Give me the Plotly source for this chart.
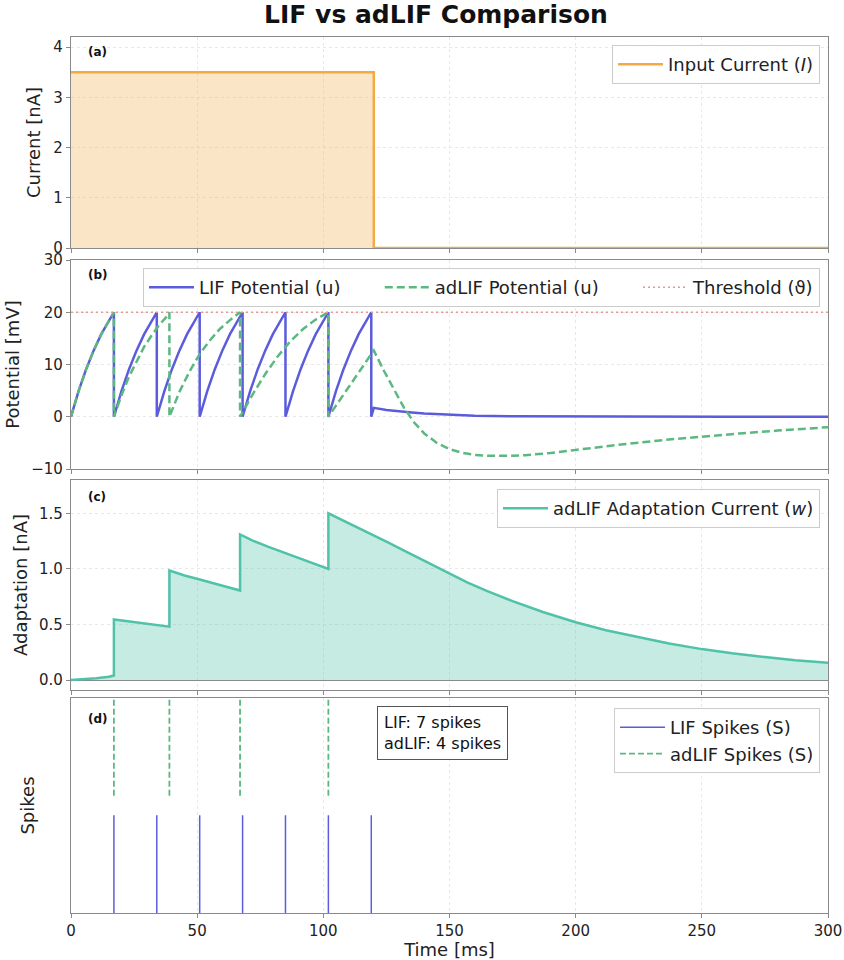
import plotly.graph_objects as go

# ---------------- data ----------------
cur_t = [0, 120, 120, 300]
cur_v = [3.5, 3.5, 0.0, 0.0]

lif_t = [0, 3, 6, 9, 12, 15, 17,
         17, 20, 23, 26, 29, 32, 34,
         34, 37, 40, 43, 46, 49, 51,
         51, 54, 57, 60, 63, 66, 68,
         68, 71, 74, 77, 80, 83, 85,
         85, 88, 91, 94, 97, 100, 102,
         102, 105, 108, 111, 114, 117, 119,
         119, 120, 125, 130, 135, 140, 150, 160, 175, 200, 230, 260, 300]
lif_u = [0, 4.9, 9.1, 12.7, 15.8, 18.5, 20.0,
         0, 4.9, 9.1, 12.7, 15.8, 18.5, 20.0,
         0, 4.9, 9.1, 12.7, 15.8, 18.5, 20.0,
         0, 4.9, 9.1, 12.7, 15.8, 18.5, 20.0,
         0, 4.9, 9.1, 12.7, 15.8, 18.5, 20.0,
         0, 4.9, 9.1, 12.7, 15.8, 18.5, 20.0,
         0, 4.9, 9.1, 12.7, 15.8, 18.5, 20.0,
         0, 1.7, 1.3, 1.0, 0.8, 0.6, 0.4, 0.2, 0.1, 0.03, 0.01, 0.0, 0.0]

adlif_t = [0, 3, 6, 9, 12, 15, 17,
           17, 20, 23, 26, 29, 32, 35, 38, 39,
           39, 43, 47, 51, 55, 59, 63, 67,
           67, 72, 77, 82, 87, 92, 97, 102,
           102, 108, 114, 120,
           124, 128, 132, 136, 140, 145, 150, 155, 160, 165, 170, 175, 180,
           190, 200, 210, 220, 235, 250, 265, 280, 300]
adlif_u = [0, 4.9, 9.1, 12.7, 15.8, 18.5, 20.0,
           0, 4.1, 7.7, 10.7, 13.4, 15.6, 17.6, 19.2, 20.0,
           0, 4.8, 8.7, 12.0, 14.6, 16.8, 18.5, 20.0,
           0, 4.3, 8.2, 11.6, 14.5, 16.8, 18.6, 20.0,
           0, 4.2, 8.5, 12.7,
           8.8, 5.1, 1.7, -1.1, -3.2, -5.0, -6.2, -6.9, -7.3, -7.45, -7.5, -7.45, -7.35,
           -6.95, -6.35, -5.75, -5.2, -4.45, -3.8, -3.2, -2.65, -2.0]

threshold = 20.0
thr_t = [0, 300]

w_t = [0, 5, 10, 15, 17,
       17, 22, 27, 33, 39,
       39, 45, 51, 57, 62, 67,
       67, 72, 78, 84, 90, 96, 102,
       102, 108, 114, 120, 126, 132, 138, 144, 150, 157, 165, 175,
       187, 200, 212, 225, 237, 250, 262, 275, 287, 300]
w_v = [0, 0.005, 0.015, 0.03, 0.04,
       0.545, 0.53, 0.515, 0.495, 0.48,
       0.985, 0.94, 0.905, 0.87, 0.835, 0.805,
       1.31, 1.255, 1.20, 1.15, 1.10, 1.05, 1.0,
       1.5, 1.435, 1.37, 1.30, 1.235, 1.165, 1.095, 1.025, 0.955, 0.878, 0.80, 0.71,
       0.612, 0.52, 0.447, 0.382, 0.328, 0.278, 0.24, 0.206, 0.178, 0.155]

lif_spikes = [17, 34, 51, 68, 85, 102, 119]
adlif_spikes = [17, 39, 67, 102]
lif_spike_span = [0, 1.0]
adlif_spike_span = [1.2, 2.2]

x_ticks = [0, 50, 100, 150, 200, 250, 300]

# ---------------- style ----------------
FONT = "DejaVu Sans"
C_ORANGE = "#f2aa45"
C_BLUE = "#5b5cdc"
C_GREEN = "#5cb880"
C_TEAL = "#4fc2a8"
C_THR = "#e29a92"

W, H = 844, 960
ML, MR, MT, MB = 71, 16, 37, 47
PH = H - MT - MB
PW = W - ML - MR
NB = "&nbsp;" * 6


def py(px):
    return 1 - (px - MT) / PH


def pxx(px):
    return (px - ML) / PW


fig = go.Figure()

# panel a
fig.add_trace(go.Scatter(x=cur_t, y=cur_v, mode="lines", fill="tozeroy",
                         fillcolor="rgba(242,170,69,0.3)", line=dict(width=0),
                         showlegend=False, hoverinfo="skip", xaxis="x", yaxis="y"))
fig.add_trace(go.Scatter(x=cur_t, y=cur_v, mode="lines",
                         line=dict(color=C_ORANGE, width=2.5),
                         name="Input Current (<i>I</i>)",
                         xaxis="x", yaxis="y", legend="legend"))

# panel b
fig.add_trace(go.Scatter(x=lif_t, y=lif_u, mode="lines",
                         line=dict(color=C_BLUE, width=2.5),
                         name="LIF Potential (u)" + NB, xaxis="x2", yaxis="y2", legend="legend2"))
fig.add_trace(go.Scatter(x=adlif_t, y=adlif_u, mode="lines",
                         line=dict(color=C_GREEN, width=2.5, dash="8px,4px"),
                         name="adLIF Potential (u)" + NB, xaxis="x2", yaxis="y2", legend="legend2"))
fig.add_trace(go.Scatter(x=thr_t, y=[threshold] * len(thr_t), mode="lines",
                         line=dict(color=C_THR, width=1.5, dash="2px,3px"),
                         name="Threshold (ϑ)", xaxis="x2", yaxis="y2", legend="legend2"))

# panel c
fig.add_trace(go.Scatter(x=w_t, y=w_v, mode="lines", fill="tozeroy",
                         fillcolor="rgba(79,194,168,0.32)", line=dict(width=0),
                         showlegend=False, hoverinfo="skip", xaxis="x3", yaxis="y3"))
fig.add_trace(go.Scatter(x=w_t, y=w_v, mode="lines",
                         line=dict(color=C_TEAL, width=2.5),
                         name="adLIF Adaptation Current (<i>w</i>)",
                         xaxis="x3", yaxis="y3", legend="legend3"))


# panel d
def vlines(times, span):
    xs, ys = [], []
    for t in times:
        xs += [t, t, None]
        ys += [span[0], span[1], None]
    return xs, ys


lx, ly = vlines(lif_spikes, lif_spike_span)
ax_, ay_ = vlines(adlif_spikes, adlif_spike_span)
fig.add_trace(go.Scatter(x=lx, y=ly, mode="lines", line=dict(color=C_BLUE, width=1.5),
                         name="LIF Spikes (S)", xaxis="x4", yaxis="y4", legend="legend4"))
fig.add_trace(go.Scatter(x=ax_, y=ay_, mode="lines",
                         line=dict(color=C_GREEN, width=1.8, dash="6px,3px"),
                         name="adLIF Spikes (S)", xaxis="x4", yaxis="y4", legend="legend4"))

axis_common = dict(showline=True, mirror=True, linecolor="#8a8a8a", linewidth=1.2,
                   ticks="outside", ticklen=4, tickcolor="#8a8a8a", automargin=False,
                   showgrid=True, gridcolor="#e8e8e8", griddash="dot", gridwidth=1,
                   zeroline=False, tickfont=dict(size=15, family=FONT, color="#222"),
                   title_font=dict(size=18, family=FONT, color="#222"))

domains = [(py(248), py(37)), (py(469), py(260)), (py(690), py(480)), (py(913), py(698))]

layout = dict(width=W, height=H, margin=dict(l=ML, r=MR, t=MT, b=MB),
              paper_bgcolor="white", plot_bgcolor="white",
              font=dict(family=FONT, color="#222"),
              title=dict(text="<b>LIF vs adLIF Comparison</b>", x=436 / W, xanchor="center",
                         y=1 - 14 / H, yanchor="middle",
                         font=dict(size=25, family=FONT, color="#111")))

for i in range(4):
    xa = "xaxis" if i == 0 else f"xaxis{i + 1}"
    yref = "y" if i == 0 else f"y{i + 1}"
    layout[xa] = dict(axis_common, domain=[0, 1], anchor=yref, range=[0, 300],
                      tickvals=x_ticks, showticklabels=(i == 3))
    if i > 0:
        layout[xa]["matches"] = "x"

layout["xaxis4"]["title"] = dict(text="Time [ms]", standoff=2)

layout["yaxis"] = dict(axis_common, domain=list(domains[0]), anchor="x", range=[0, 4.2],
                       tickvals=[0, 1, 2, 3, 4], title=dict(text="Current [nA]", standoff=8))
layout["yaxis2"] = dict(axis_common, domain=list(domains[1]), anchor="x2", range=[-10, 30],
                        tickvals=[-10, 0, 10, 20, 30], ticktext=["−10", "0", "10", "20", "30"],
                        title=dict(text="Potential [mV]", standoff=6))
layout["yaxis3"] = dict(axis_common, domain=list(domains[2]), anchor="x3", range=[-0.09, 1.8],
                        tickvals=[0, 0.5, 1.0, 1.5], ticktext=["0.0", "0.5", "1.0", "1.5"],
                        zeroline=True, zerolinecolor="#8a8a8a", zerolinewidth=1.2,
                        title=dict(text="Adaptation [nA]", standoff=6))
layout["yaxis4"] = dict(axis_common, domain=list(domains[3]), anchor="x4", range=[0, 2.2],
                        showticklabels=False, ticks="", showgrid=False,
                        title=dict(text="Spikes", standoff=30))

leg_common = dict(bgcolor="rgba(255,255,255,0.9)", bordercolor="#cccccc", borderwidth=1,
                  font=dict(size=18, family=FONT, color="#222"),
                  xanchor="right", yanchor="top", itemwidth=45, tracegroupgap=2)
layout["legend"] = dict(leg_common, x=pxx(820), y=py(45))
layout["legend2"] = dict(leg_common, x=pxx(820), y=py(268), orientation="h")
layout["legend3"] = dict(leg_common, x=pxx(820), y=py(489))
layout["legend4"] = dict(leg_common, x=pxx(820), y=py(708))

fig.update_layout(**layout)

labels = [("(a)", 52), ("(b)", 275), ("(c)", 497), ("(d)", 719)]
for txt, ypx in labels:
    fig.add_annotation(text=f"<b>{txt}</b>", xref="paper", yref="paper", x=pxx(86), y=py(ypx),
                       xanchor="left", yanchor="middle", showarrow=False,
                       font=dict(size=12, family=FONT, color="#111"))

fig.add_annotation(text=f"LIF: {len(lif_spikes)} spikes<br>adLIF: {len(adlif_spikes)} spikes",
                   xref="paper", yref="paper", x=pxx(442), y=py(706), xanchor="center",
                   yanchor="top", showarrow=False, align="left",
                   bgcolor="white", bordercolor="#555", borderwidth=1, borderpad=6,
                   font=dict(size=16, family=FONT, color="#111"))

fig.write_html("out.html", config={"displayModeBar": False},
               post_script="document.body.style.margin='0';document.body.style.padding='0';")
